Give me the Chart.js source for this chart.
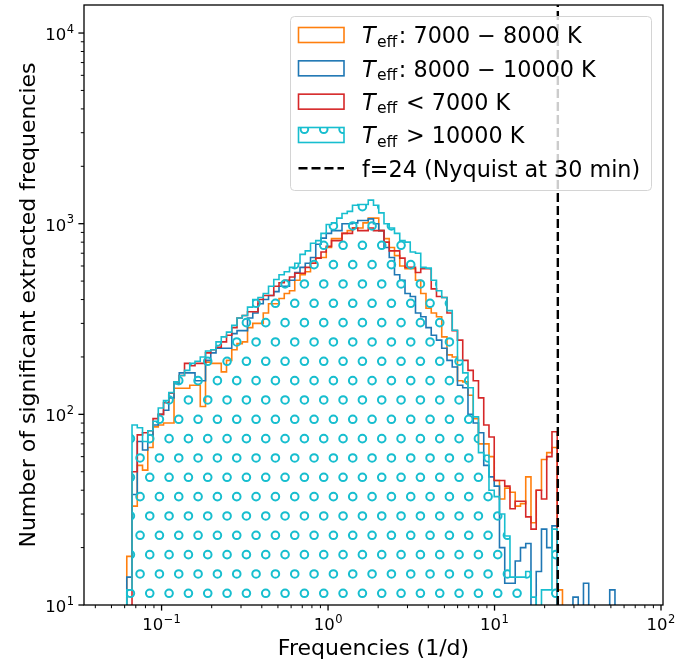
<!DOCTYPE html>
<html>
<head>
<meta charset="utf-8">
<script src="https://cdn.jsdelivr.net/npm/chart.js@4.4.1/dist/chart.umd.min.js"></script>
<style>
  html, body { margin: 0; padding: 0; background: #fff; }
  canvas { display: block; }
</style>
</head>
<body>
<canvas id="chart" width="694" height="668"></canvas>
<script>
(function(){
  // histogram bins (log spaced, like np.logspace in the original)
  const binStart = 0.0618, binEnd = 52.9, nBins = 93;

  const countsOrange = [
    18, 33, 54, 51, 67, 86, 88, 90, 90, 137,
    137, 137, 142, 142, 110, 188, 185, 185, 167, 192,
    218, 235, 240, 285, 300, 300, 340, 380, 380, 405,
    430, 445, 505, 540, 560, 620, 660, 665, 750, 835,
    835, 890, 920, 950, 950, 1010, 1070, 1070, 920, 835,
    750, 680, 600, 580, 580, 505, 430, 360, 340, 325,
    255, 205, 200, 150, 148, 126, 95, 70, 70, 60,
    45, 36, 41, 39, 33, 34, 47, 27, 40, 58,
    63, 67, 12, 0, 0, 0, 0, 0, 0, 0,
    0, 0, 0
  ];
  const countsBlue = [
    14, 38, 72, 65, 78, 88, 100, 105, 122, 145,
    165, 165, 165, 150, 150, 192, 210, 222, 222, 222,
    265, 275, 275, 320, 340, 380, 400, 420, 440, 470,
    470, 505, 555, 590, 620, 665, 780, 840, 890, 920,
    920, 1000, 1000, 1010, 1040, 1040, 1060, 1000, 920, 750,
    665, 540, 505, 430, 415, 340, 325, 285, 260, 245,
    222, 192, 177, 142, 138, 100, 90, 80, 54, 47,
    42, 20, 13, 13, 17, 20, 21, 0, 15, 25,
    20, 26, 0, 0, 0, 11, 0, 13, 0, 0,
    0, 0, 12
  ];
  const countsRed = [
    0, 50, 78, 80, 82, 95, 100, 115, 129, 148,
    160, 185, 180, 185, 185, 210, 218, 225, 240, 260,
    285, 320, 330, 345, 345, 400, 420, 420, 470, 490,
    505, 525, 550, 550, 590, 620, 660, 710, 760, 815,
    815, 890, 890, 950, 920, 920, 950, 920, 920, 800,
    720, 720, 660, 590, 590, 555, 580, 580, 455, 415,
    410, 340, 275, 245, 192, 170, 150, 122, 88, 76,
    45, 45, 42, 32, 35, 35, 29, 25, 40, 36,
    60, 81, 0, 0, 0, 0, 0, 0, 0, 0,
    0, 0, 0
  ];
  const countsCyan = [
    12, 88, 85, 72, 82, 92, 108, 118, 130, 148,
    160, 170, 185, 190, 200, 215, 218, 240, 255, 270,
    293, 320, 330, 365, 400, 410, 430, 470, 510, 540,
    560, 590, 620, 690, 720, 790, 815, 890, 990, 1010,
    1070, 1130, 1160, 1250, 1260, 1260, 1330, 1250, 1140, 1000,
    950, 890, 815, 800, 710, 700, 590, 585, 505, 445,
    410, 350, 276, 192, 165, 138, 97, 63, 61, 40,
    37, 30, 23, 14, 14, 14, 15, 11, 0, 12,
    12, 25, 0, 0, 0, 0, 0, 0, 0, 0,
    0, 0, 0
  ];
  const nyquistF = 24;

  const xMin = 0.0342, xMax = 102.8, yMin = 10, yMax = 14030;
  const xTickValues = [0.1, 1, 10, 100];
  const xTickExps = ['\u22121', '0', '1', '2'];
  const yTickValues = [10, 100, 1000, 10000];
  const yTickExps = ['1', '2', '3', '4'];

  const C_ORANGE = '#ff7f0e', C_BLUE = '#1f77b4', C_RED = '#d62728', C_CYAN = '#17becf';
  const FONT = '"DejaVu Sans", sans-serif';
  Chart.defaults.font.family = FONT;

  const edges = [];
  const l0 = Math.log10(binStart), l1 = Math.log10(binEnd);
  for(let i = 0; i <= nBins; i++) edges.push(Math.pow(10, l0 + (l1 - l0) * i / nBins));

  // empty bins fall below the log axis (as matplotlib does with log(0))
  const below = 1;
  // point i sits on the left edge of bin i; 'before' stepping holds its count to the next edge
  function stepData(counts){
    const pts = [{ x: edges[0], y: below }];
    counts.forEach((c, i) => pts.push({ x: edges[i], y: c > 0 ? c : below }));
    pts.push({ x: edges[counts.length], y: below });
    return pts;
  }

  // 'o' hatch: circles on a 1/6 inch grid, anchored to the canvas like matplotlib
  function hatchPattern(ctx){
    const tile = document.createElement('canvas');
    tile.width = 116; tile.height = 116;
    const t = tile.getContext('2d');
    const s = 116 / 6;
    t.strokeStyle = C_CYAN; t.lineWidth = 2.0;
    for(let j = 0; j < 6; j++){
      for(let k = -1; k <= 6; k++){
        const cx = (j % 2 === 0 ? 14.4 : 4.74) + k * s;
        const cy = 13.3 + j * s;
        t.beginPath(); t.arc(cx, cy, 3.8, 0, Math.PI * 2); t.stroke();
      }
    }
    return ctx.createPattern(tile, 'repeat');
  }

  const canvas = document.getElementById('chart');
  const ctx = canvas.getContext('2d');
  const hatch = hatchPattern(ctx);

  function minorTicks(lo, hi){
    const out = [];
    for(let d = Math.floor(Math.log10(lo)); d <= Math.ceil(Math.log10(hi)); d++){
      for(let m = 2; m <= 9; m++){
        const v = m * Math.pow(10, d);
        if(v > lo && v < hi) out.push(v);
      }
    }
    return out;
  }

  // "10" with a raised exponent, like matplotlib's mathtext tick labels
  function powerLabel(c, exp, x, base, align){
    c.font = '16.5px ' + FONT;
    const w1 = c.measureText('10').width;
    c.font = '11.5px ' + FONT;
    const w2 = c.measureText(exp).width;
    const total = w1 + w2 + 0.5;
    const x0 = align === 'center' ? x - total / 2 : x - total;
    c.font = '16.5px ' + FONT;
    c.fillText('10', x0, base);
    c.font = '11.5px ' + FONT;
    c.fillText(exp, x0 + w1 + 0.5, base - 7.5);
  }

  const framePlugin = {
    id: 'frame',
    afterDatasetsDraw(chart){
      const c = chart.ctx, a = chart.chartArea, sx = chart.scales.x, sy = chart.scales.y;
      c.save();
      c.strokeStyle = '#000';
      c.lineWidth = 1.3;
      xTickValues.forEach(v => { const p = sx.getPixelForValue(v); c.beginPath(); c.moveTo(p, a.bottom); c.lineTo(p, a.bottom + 5.6); c.stroke(); });
      yTickValues.forEach(v => { const p = sy.getPixelForValue(v); c.beginPath(); c.moveTo(a.left, p); c.lineTo(a.left - 5.6, p); c.stroke(); });
      c.lineWidth = 1.0;
      minorTicks(xMin, xMax).forEach(v => { const p = sx.getPixelForValue(v); c.beginPath(); c.moveTo(p, a.bottom); c.lineTo(p, a.bottom + 3.2); c.stroke(); });
      minorTicks(yMin, yMax).forEach(v => { const p = sy.getPixelForValue(v); c.beginPath(); c.moveTo(a.left, p); c.lineTo(a.left - 3.2, p); c.stroke(); });
      c.lineWidth = 1.3;
      c.strokeRect(a.left, a.top, a.right - a.left, a.bottom - a.top);

      c.fillStyle = '#000';
      c.textBaseline = 'alphabetic';
      c.textAlign = 'left';
      xTickValues.forEach((v, i) => powerLabel(c, xTickExps[i], sx.getPixelForValue(v), a.bottom + 25, 'center'));
      yTickValues.forEach((v, i) => powerLabel(c, yTickExps[i], a.left - 10, sy.getPixelForValue(v) + 7, 'right'));
      c.restore();
    }
  };

  const legendRows = [
    { color: C_ORANGE, teff: true, text: ': 7000 \u2212 8000 K' },
    { color: C_BLUE, teff: true, text: ': 8000 \u2212 10000 K' },
    { color: C_RED, teff: true, text: ' < 7000 K' },
    { color: C_CYAN, teff: true, text: ' > 10000 K', hatch: true },
    { color: '#000', teff: false, text: 'f=24 (Nyquist at 30 min)', dashed: true }
  ];

  const legendPlugin = {
    id: 'mplLegend',
    afterDraw(chart){
      const c = chart.ctx;
      const bx = 290.5, by = 16.5, bw = 361, bh = 174;
      c.save();
      c.beginPath();
      if(c.roundRect) c.roundRect(bx, by, bw, bh, 4); else c.rect(bx, by, bw, bh);
      c.fillStyle = 'rgba(255,255,255,0.8)';
      c.fill();
      c.strokeStyle = '#d4d4d4';
      c.lineWidth = 1;
      c.stroke();
      legendRows.forEach((r, i) => {
        const cy = 35 + i * 33.33;
        const hx = 298.5, hw = 45.5;
        if(r.dashed){
          c.strokeStyle = r.color; c.lineWidth = 2.4; c.setLineDash([9, 4]);
          c.beginPath(); c.moveTo(hx, cy); c.lineTo(hx + hw, cy); c.stroke();
          c.setLineDash([]);
        } else {
          if(r.hatch){
            c.save(); c.beginPath(); c.rect(hx, cy - 7.5, hw, 15); c.clip();
            c.fillStyle = hatch; c.fillRect(hx, cy - 7.5, hw, 15); c.restore();
          }
          c.strokeStyle = r.color; c.lineWidth = 1.6;
          c.strokeRect(hx, cy - 7.5, hw, 15);
        }
        const base = cy + 8.3;
        let x = 362;
        c.fillStyle = '#000';
        c.textBaseline = 'alphabetic';
        c.textAlign = 'left';
        if(r.teff){
          c.font = 'italic 22.3px ' + FONT;
          c.fillText('T', x, base);
          x += c.measureText('T').width + 1.4;
          c.font = '15.6px ' + FONT;
          c.fillText('eff', x, base + 3.4);
          x += c.measureText('eff').width + 1.5;
        }
        c.font = '22.3px ' + FONT;
        c.fillText(r.text, x, base);
      });
      c.restore();
    }
  };

  new Chart(canvas, {
    type: 'line',
    data: {
      datasets: [
        { label: 'f=24 (Nyquist at 30 min)', data: [{ x: nyquistF, y: yMin }, { x: nyquistF, y: yMax }], borderColor: '#000', borderWidth: 2.4, borderDash: [9, 4], pointRadius: 0, fill: false },
        { label: 'Teff > 10000 K', data: stepData(countsCyan), borderColor: C_CYAN, backgroundColor: hatch, borderWidth: 1.6, pointRadius: 0, stepped: 'before', fill: 'start' },
        { label: 'Teff < 7000 K', data: stepData(countsRed), borderColor: C_RED, borderWidth: 1.6, pointRadius: 0, stepped: 'before', fill: false },
        { label: 'Teff: 8000 - 10000 K', data: stepData(countsBlue), borderColor: C_BLUE, borderWidth: 1.6, pointRadius: 0, stepped: 'before', fill: false },
        { label: 'Teff: 7000 - 8000 K', data: stepData(countsOrange), borderColor: C_ORANGE, borderWidth: 1.6, pointRadius: 0, stepped: 'before', fill: false }
      ]
    },
    options: {
      responsive: false,
      devicePixelRatio: 1,
      animation: false,
      layout: { padding: { left: 0, right: 31, top: 5, bottom: 0 } },
      plugins: { legend: { display: false }, tooltip: { enabled: false } },
      scales: {
        x: {
          type: 'logarithmic', position: 'bottom', min: xMin, max: xMax, bounds: 'data',
          grid: { display: false, drawTicks: false }, border: { display: false },
          ticks: { display: false },
          afterFit: s => { s.height = 63; s.paddingLeft = 0; s.paddingRight = 0; },
          title: { display: true, text: 'Frequencies (1/d)', color: '#000', font: { size: 22 }, padding: { top: 0, bottom: 6 } }
        },
        y: {
          type: 'logarithmic', position: 'left', min: yMin, max: yMax, bounds: 'data',
          grid: { display: false, drawTicks: false }, border: { display: false },
          ticks: { display: false },
          afterFit: s => { s.width = 84; s.paddingTop = 0; s.paddingBottom = 0; },
          title: { display: true, text: 'Number of significant extracted frequencies', color: '#000', font: { size: 22 }, padding: { top: 16, bottom: 0 } }
        }
      }
    },
    plugins: [framePlugin, legendPlugin]
  });
})();
</script>
</body>
</html>
